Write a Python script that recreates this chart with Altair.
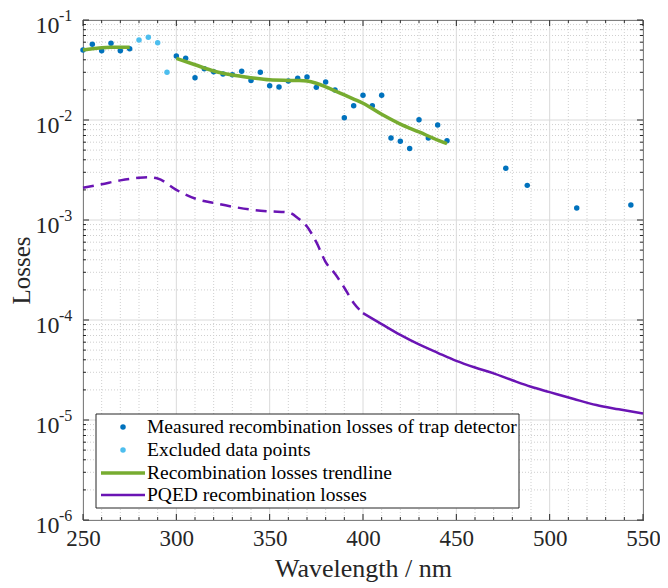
import altair as alt
import pandas as pd

# ---------------- data ----------------
meas_wl = [250, 255, 260, 265, 270, 275,
           300, 305, 310, 315, 320, 325, 330, 335, 340, 345, 350, 355, 360, 365,
           370, 375, 380, 385, 390, 395, 400, 405, 410, 415, 420, 425, 430, 435,
           440, 445, 476.5, 488, 514.5, 543.5]
meas_val = [0.0500, 0.0571, 0.0493, 0.0585, 0.0493, 0.0516,
            0.0437, 0.0414, 0.0265, 0.0326, 0.0304, 0.0288, 0.0284, 0.0307, 0.0249, 0.0300,
            0.0220, 0.0214, 0.0245, 0.0261, 0.0269, 0.0212, 0.0240, 0.0200, 0.01055, 0.0139,
            0.0177, 0.0139, 0.0177, 0.0066, 0.00612, 0.0052, 0.01007, 0.0066, 0.0089, 0.0062,
            0.0033, 0.00222, 0.00132, 0.00141]

excl_wl = [280, 285, 290, 295]
excl_val = [0.0631, 0.0671, 0.0593, 0.0300]

trend1_wl = [250, 255, 260, 265, 270, 275]
trend1_val = [0.0500, 0.0516, 0.0527, 0.0533, 0.0535, 0.0533]

trend2_wl = [300, 310, 320, 330, 340, 350, 360, 365, 370, 375, 380, 385, 390, 395,
             400, 410, 420, 430, 440, 445]
trend2_val = [0.0414, 0.0357, 0.0309, 0.0282, 0.0265, 0.0252, 0.0249, 0.0248, 0.0245,
              0.0233, 0.0215, 0.0196, 0.0178, 0.0162, 0.0147, 0.0114, 0.0091, 0.0076,
              0.0063, 0.0058]

pqed_dash_wl = [250, 260, 270, 280, 285, 290, 300, 310, 320, 330, 340, 350, 360, 365,
                370, 375, 380, 385, 390, 395, 400]
pqed_dash_val = [0.00210, 0.00228, 0.00249, 0.00264, 0.00267, 0.00260, 0.00200, 0.00164,
                 0.00148, 0.00136, 0.00127, 0.00122, 0.00119, 0.00105, 0.00086, 0.00060,
                 0.00038, 0.00029, 0.00021, 0.000148, 0.000117]

pqed_solid_wl = [400, 410, 420, 430, 440, 450, 460, 470, 480, 490, 500, 513, 525, 537, 550]
pqed_solid_val = [1.17e-4, 9.1e-5, 7.1e-5, 5.7e-5, 4.7e-5, 3.9e-5, 3.35e-5, 2.93e-5,
                  2.5e-5, 2.15e-5, 1.9e-5, 1.62e-5, 1.41e-5, 1.28e-5, 1.16e-5]

x_ticks = [250, 300, 350, 400, 450, 500, 550]
x_minor = [260, 270, 280, 290, 310, 320, 330, 340, 360, 370, 380, 390, 410, 420, 430,
           440, 460, 470, 480, 490, 510, 520, 530, 540]
y_ticks = [1e-6, 1e-5, 1e-4, 1e-3, 1e-2, 1e-1]
y_exp = ["-6", "-5", "-4", "-3", "-2", "-1"]
y_minor = [m * 10.0 ** e for e in range(-6, -1) for m in range(2, 10)]

legend_labels = ["Measured recombination losses of trap detector",
                 "Excluded data points",
                 "Recombination losses trendline",
                 "PQED recombination losses"]

# ---------------- styles ----------------
FONT = "Liberation Serif"
C_MEAS = "#0072BD"
C_EXCL = "#4DBEEE"
C_GREEN = "#77AC30"
C_PURPLE = "#6A14B4"
W, H = 560, 500

xs = alt.Scale(domain=[250, 550], nice=False, zero=False)
ys = alt.Scale(type="log", domain=[1e-6, 1e-1], nice=False)

x_axis = alt.Axis(
    values=x_ticks, title="Wavelength / nm", grid=False, domain=False, ticks=False,
    labelFont=FONT, labelFontSize=23, labelColor="#262626", labelPadding=7,
    labelFlush=False, labelOverlap=False,
    titleFont=FONT, titleFontSize=26, titleFontWeight="normal", titleColor="#262626",
    titlePadding=5, format="d")
y_axis = alt.Axis(
    values=y_ticks, title="Losses", grid=False, domain=False, ticks=False,
    labelExpr="'10'", labelFont=FONT, labelFontSize=24, labelColor="#262626",
    labelPadding=24, labelOffset=5, labelFlush=False, labelOverlap=False,
    titleFont=FONT, titleFontSize=25, titleFontWeight="normal", titleColor="#262626",
    titlePadding=1)


def X(f):
    return alt.X(f, type="quantitative", scale=xs, axis=x_axis)


def Y(f):
    return alt.Y(f, type="quantitative", scale=ys, axis=y_axis)


# grid
gx_minor = alt.Chart(pd.DataFrame({"x": x_minor})).mark_rule(
    color="#cfcfcf", strokeDash=[1, 2], strokeWidth=1).encode(x=X("x"))
gy_minor = alt.Chart(pd.DataFrame({"y": y_minor})).mark_rule(
    color="#cfcfcf", strokeDash=[1, 2], strokeWidth=1).encode(y=Y("y"))
gx_major = alt.Chart(pd.DataFrame({"x": x_ticks})).mark_rule(
    color="#dadada", strokeWidth=1).encode(x=X("x"))
gy_major = alt.Chart(pd.DataFrame({"y": y_ticks})).mark_rule(
    color="#dadada", strokeWidth=1).encode(y=Y("y"))

exp_layer = alt.Chart(pd.DataFrame({"y": y_ticks, "t": y_exp})).mark_text(
    font=FONT, fontSize=16, align="left", baseline="middle", color="#262626", dy=-4
).encode(x=alt.value(-24), y=Y("y"), text="t:N")

# ticks (inside, MATLAB style)
tick_col = "#262626"
tb_major = alt.Chart(pd.DataFrame({"x": x_ticks})).mark_rule(color=tick_col).encode(
    x=X("x"), y=alt.value(H), y2=alt.value(H - 6))
tb_minor = alt.Chart(pd.DataFrame({"x": x_minor})).mark_rule(color=tick_col).encode(
    x=X("x"), y=alt.value(H), y2=alt.value(H - 3))
tt_major = alt.Chart(pd.DataFrame({"x": x_ticks})).mark_rule(color=tick_col).encode(
    x=X("x"), y=alt.value(0), y2=alt.value(6))
tt_minor = alt.Chart(pd.DataFrame({"x": x_minor})).mark_rule(color=tick_col).encode(
    x=X("x"), y=alt.value(0), y2=alt.value(3))
tl_major = alt.Chart(pd.DataFrame({"y": y_ticks})).mark_rule(color=tick_col).encode(
    y=Y("y"), x=alt.value(0), x2=alt.value(6))
tl_minor = alt.Chart(pd.DataFrame({"y": y_minor})).mark_rule(color=tick_col).encode(
    y=Y("y"), x=alt.value(0), x2=alt.value(3))
tr_major = alt.Chart(pd.DataFrame({"y": y_ticks})).mark_rule(color=tick_col).encode(
    y=Y("y"), x=alt.value(W), x2=alt.value(W - 6))
tr_minor = alt.Chart(pd.DataFrame({"y": y_minor})).mark_rule(color=tick_col).encode(
    y=Y("y"), x=alt.value(W), x2=alt.value(W - 3))

# data marks
meas = alt.Chart(pd.DataFrame({"wl": meas_wl, "v": meas_val})).mark_circle(
    size=30, color=C_MEAS, opacity=1).encode(x=X("wl"), y=Y("v"))
excl = alt.Chart(pd.DataFrame({"wl": excl_wl, "v": excl_val})).mark_circle(
    size=30, color=C_EXCL, opacity=1).encode(x=X("wl"), y=Y("v"))


def line(wl, val, color, width, dash=None):
    kw = dict(color=color, strokeWidth=width, interpolate="monotone")
    if dash:
        kw["strokeDash"] = dash
    return alt.Chart(pd.DataFrame({"wl": wl, "v": val})).mark_line(**kw).encode(
        x=X("wl"), y=Y("v"))


t1 = line(trend1_wl, trend1_val, C_GREEN, 3.5)
t2 = line(trend2_wl, trend2_val, C_GREEN, 3.5)
p1 = line(pqed_dash_wl, pqed_dash_val, C_PURPLE, 2.5, [11, 7])
p2 = line(pqed_solid_wl, pqed_solid_val, C_PURPLE, 2.5)

# legend (manual, MATLAB style)
lx0, lx1, ly0, ly1 = 13, 436, 394, 488
leg_box = alt.Chart(pd.DataFrame({"a": [0]})).mark_rect(
    fill="white", stroke="#262626", strokeWidth=1
).encode(x=alt.value(lx0), x2=alt.value(lx1), y=alt.value(ly0), y2=alt.value(ly1))
rows = [407, 430, 453, 475]
leg_layers = [leg_box]
leg_layers.append(alt.Chart(pd.DataFrame({"a": [0]})).mark_circle(
    size=30, color=C_MEAS, opacity=1).encode(x=alt.value(40), y=alt.value(rows[0])))
leg_layers.append(alt.Chart(pd.DataFrame({"a": [0]})).mark_circle(
    size=30, color=C_EXCL, opacity=1).encode(x=alt.value(40), y=alt.value(rows[1])))
leg_layers.append(alt.Chart(pd.DataFrame({"a": [0]})).mark_rule(
    color=C_GREEN, strokeWidth=3.5).encode(x=alt.value(18), x2=alt.value(62), y=alt.value(rows[2])))
leg_layers.append(alt.Chart(pd.DataFrame({"a": [0]})).mark_rule(
    color=C_PURPLE, strokeWidth=2.5).encode(x=alt.value(18), x2=alt.value(62), y=alt.value(rows[3])))
for lab, ry in zip(legend_labels, rows):
    leg_layers.append(alt.Chart(pd.DataFrame({"a": [0]})).mark_text(
        font=FONT, fontSize=19.5, align="left", baseline="middle", color="#000000"
    ).encode(x=alt.value(64), y=alt.value(ry), text=alt.value(lab)))

chart = alt.layer(
    gx_minor, gy_minor, gx_major, gy_major,
    tb_major, tb_minor, tt_major, tt_minor, tl_major, tl_minor, tr_major, tr_minor,
    meas, excl, t1, t2, p1, p2, exp_layer, *leg_layers
).properties(
    width=W, height=H,
    autosize=alt.AutoSizeParams(type="none"),
    padding={"left": 75, "top": 12, "right": 17, "bottom": 66},
    background="white",
).configure_view(stroke="#262626", strokeWidth=1)

chart.save("out.html", embed_options={"renderer": "svg", "actions": False})
